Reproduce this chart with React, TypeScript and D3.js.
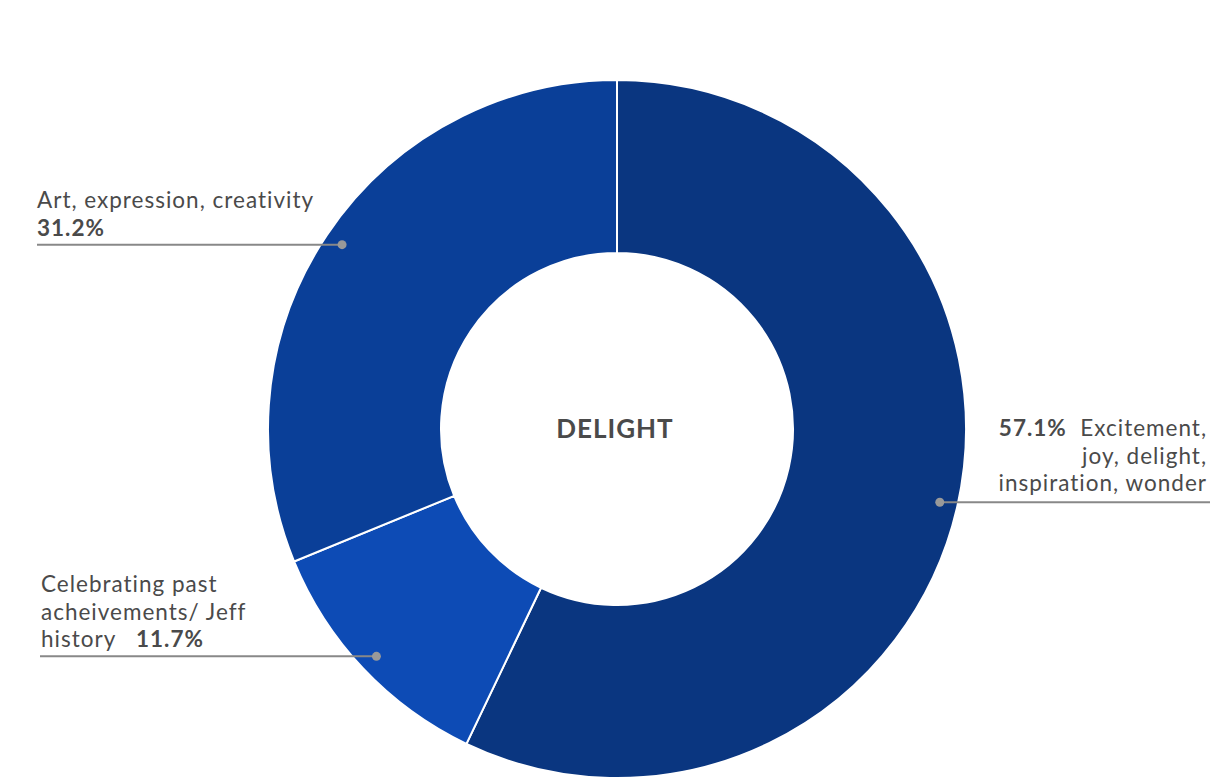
import React, { useEffect, useRef } from 'react';
import * as d3 from 'd3';

const categories = [
  'Excitement, joy, delight, inspiration, wonder',
  'Celebrating past acheivements/ Jeff history',
  'Art, expression, creativity'
];
const values = [57.1, 11.7, 31.2];
const colors = ['#0a3680', '#0d4bb5', '#0a3f98'];
const percentLabels = ['57.1%', '11.7%', '31.2%'];

type Part = { t: string; bold?: boolean };

const App: React.FC = () => {
  const svgRef = useRef<SVGSVGElement>(null);

  useEffect(() => {
    if (!svgRef.current) return;
    const svg = d3.select(svgRef.current);
    svg.selectAll('*').remove();

    const width = 1210;
    const height = 781;
    const cx = 617;
    const cy = 429;
    const outerR = 349;
    const innerR = 176;
    const dotR = 331;
    const font = 'Lato, "Open Sans", sans-serif';
    const textColor = '#4a4a4a';

    const data = categories.map((c, i) => ({ name: c, value: values[i], color: colors[i], pct: percentLabels[i] }));

    const pie = d3.pie<typeof data[number]>().sort(null).value(d => d.value);
    const arc = d3.arc<d3.PieArcDatum<typeof data[number]>>().innerRadius(innerR).outerRadius(outerR);
    const arcs = pie(data);

    const g = svg.append('g').attr('transform', `translate(${cx},${cy})`);

    g.selectAll('path')
      .data(arcs)
      .enter().append('path')
      .attr('d', arc)
      .attr('fill', d => d.data.color)
      .attr('stroke', '#fff')
      .attr('stroke-width', 2);

    // Centre label
    svg.append('text')
      .attr('x', 615)
      .attr('y', 438)
      .attr('text-anchor', 'middle')
      .style('font-family', font)
      .style('font-size', '26px')
      .style('letter-spacing', '1px')
      .style('font-weight', 'bold')
      .style('fill', textColor)
      .text('DELIGHT');

    // Leader lines and dots
    const dotPos = arcs.map(a => {
      const mid = (a.startAngle + a.endAngle) / 2;
      return [cx + dotR * Math.sin(mid), cy - dotR * Math.cos(mid)];
    });
    const lineEnds = [1210, 40, 37];
    dotPos.forEach((p, i) => {
      svg.append('line')
        .attr('x1', p[0]).attr('y1', p[1])
        .attr('x2', lineEnds[i]).attr('y2', p[1])
        .attr('stroke', '#888')
        .attr('stroke-width', 2);
      svg.append('circle')
        .attr('cx', p[0]).attr('cy', p[1])
        .attr('r', 4.5)
        .attr('fill', '#999');
    });

    // multi-line label: one <text>, each line a positioned tspan
    const addLabel = (x: number, y: number, anchor: string, lineGap: number, lines: Part[][]) => {
      const t = svg.append('text')
        .attr('text-anchor', anchor)
        .style('font-family', font)
        .style('font-size', '22.5px')
        .style('letter-spacing', '1px')
        .style('fill', textColor);
      lines.forEach((parts, li) => {
        parts.forEach((p, pi) => {
          const s = t.append('tspan')
            .style('font-weight', p.bold ? 'bold' : 'normal')
            .text(p.t);
          if (pi === 0) s.attr('x', x).attr('y', y + li * lineGap);
        });
      });
    };

    addLabel(37, 208, 'start', 28, [
      [{ t: 'Art, expression, creativity' }],
      [{ t: percentLabels[2], bold: true }]
    ]);

    addLabel(41, 592, 'start', 27.5, [
      [{ t: 'Celebrating past' }],
      [{ t: 'acheivements/ Jeff' }],
      [{ t: 'history\u00a0\u00a0\u00a0' }, { t: percentLabels[1], bold: true }]
    ]);

    addLabel(1207, 436, 'end', 27.5, [
      [{ t: percentLabels[0], bold: true }, { t: '\u00a0\u00a0Excitement,' }],
      [{ t: 'joy, delight,' }],
      [{ t: 'inspiration, wonder' }]
    ]);

    svg.attr('width', width).attr('height', height);
  }, []);

  return (
    <div style={{ position: 'absolute', left: 0, top: 0 }}>
      <svg ref={svgRef} width={1210} height={781} style={{ display: 'block', background: '#fff' }}></svg>
    </div>
  );
};

export default App;
